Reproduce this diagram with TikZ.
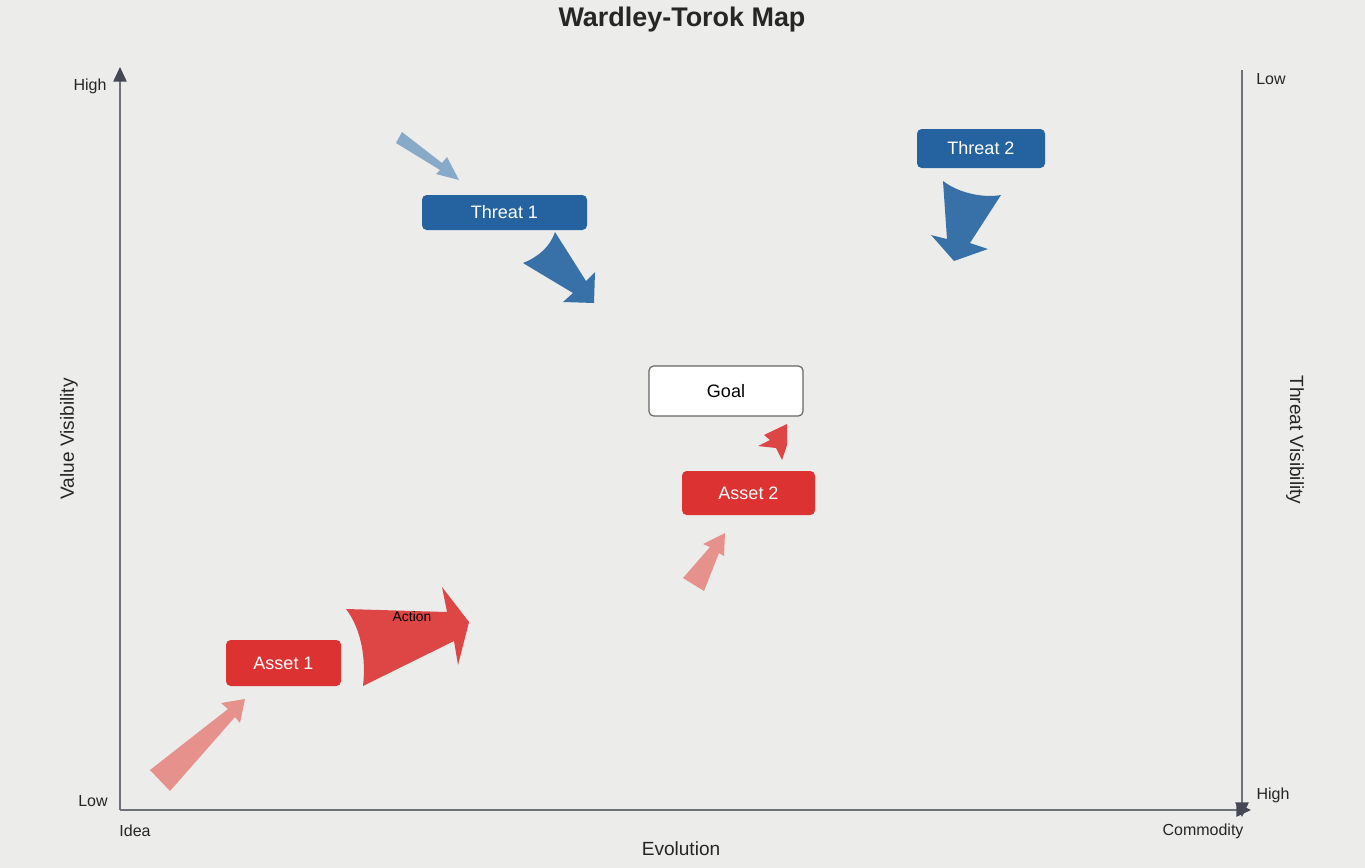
\documentclass[tikz,border=0pt]{standalone}
\usepackage{fontspec}
\setmainfont{Liberation Sans}
\usetikzlibrary{arrows.meta}

\definecolor{bgcol}{RGB}{236,236,234}
\definecolor{axisline}{RGB}{112,114,122}
\definecolor{axishead}{RGB}{70,72,84}
\definecolor{threatblue}{RGB}{37,99,160}
\definecolor{threatarrow}{RGB}{56,113,168}
\definecolor{threatlight}{RGB}{135,170,200}
\definecolor{assetred}{RGB}{220,50,50}
\definecolor{assetarrow}{RGB}{222,70,70}
\definecolor{assetlight}{RGB}{230,145,140}

\begin{document}
\begin{tikzpicture}
            [x=0.75pt, y=-0.75pt,
             axis/.style={draw=axisline, line width=1.2pt, -{Triangle[length=11pt, width=10pt, color=axishead]}},
             axislabel/.style={font=\fontsize{12}{14}\selectfont, text=black!85},
             axistitle/.style={font=\fontsize{14.3}{16}\selectfont, text=black!85},
             mapbox/.style={rectangle, rounded corners=3.5pt, inner sep=0pt, font=\fontsize{13.5}{16}\selectfont},
             threatbox/.style={mapbox, fill=threatblue, text=white},
             assetbox/.style={mapbox, fill=assetred, text=white},
             goalbox/.style={mapbox, fill=white, draw=black!60, line width=0.9pt, text=black}]
            \fill[bgcol] (0,0) rectangle (1365,868);
            \useasboundingbox (0,0) rectangle (1365,868);

            % title
            \node[font=\fontsize{20.2}{23}\selectfont\bfseries, text=black!85] (title) at (682,19.5) {Wardley-Torok Map};

            % axes
            \coordinate (origin) at (120,810);
            \coordinate (ytop) at (120,67);
            \coordinate (xend) at (1251,810);
            \coordinate (rtop) at (1242,70);
            \coordinate (rend) at (1242,817);
            \draw[axis] (origin) -- (ytop);
            \draw[axis] (origin) -- (xend);
            \draw[axis] (rtop) -- (rend);

            \node[axislabel] (vhigh) at (90,86) {High};
            \node[axislabel] (vlow) at (93,801) {Low};
            \node[axislabel] (idea) at (135,831) {Idea};
            \node[axislabel] (commodity) at (1203,831) {Commodity};
            \node[axislabel] (tlow) at (1271,79) {Low};
            \node[axislabel] (thigh) at (1273,795) {High};
            \node[axistitle] (evolution) at (681,849) {Evolution};
            \node[axistitle, rotate=90] (valuevis) at (69,439) {Value Visibility};
            \node[axistitle, rotate=-90] (threatvis) at (1295,440) {Threat Visibility};

            % boxes
            \node[threatbox, minimum width=123.75pt, minimum height=26.25pt] (threat1) at (504.5,212.5) {Threat 1};
            \node[threatbox, minimum width=96pt, minimum height=29.25pt] (threat2) at (981,148.5) {Threat 2};
            \node[goalbox, minimum width=115.5pt, minimum height=37.5pt] (goal) at (726,391) {Goal};
            \node[assetbox, minimum width=99.75pt, minimum height=33pt] (asset2) at (748.5,493) {Asset 2};
            \node[assetbox, minimum width=86.25pt, minimum height=34.5pt] (asset1) at (283.5,663) {Asset 1};

            % movement arrows
            \fill[assetlight] (150,770) -- (228,709) -- (221,703) -- (245,699) -- (240,723) -- (235,717) -- (170,791) -- cycle;
            \fill[assetarrow] (346,609) -- (447,612) -- (442,587) -- (469,622) -- (458,665) -- (454,641) -- (363,686)
                .. controls (366,660) and (362,630) .. (346,609) -- cycle;
            \node[font=\fontsize{10.4}{12}\selectfont, text=black] (action) at (412,617) {Action};
            \fill[assetlight] (683,578) -- (710,547) -- (703,544) -- (725,533) -- (724,556) -- (719,553) -- (704,591) -- cycle;
            \fill[assetarrow] (787,424) -- (764,435) -- (770,440) -- (758,446) -- (776,448) -- (782,460) -- (787,445) -- cycle;
            \fill[threatarrow] (555,232) -- (586,281) -- (595,272) -- (594,303) -- (563,302) -- (573,293) -- (523,263)
                .. controls (538,257) and (550,247) .. (555,232) -- cycle;
            \fill[threatarrow] (943,181) .. controls (960,194) and (985,198) .. (1001,195) -- (970,243) -- (988,249)
                -- (954,261) -- (931,235) -- (947,239) -- cycle;
            \fill[threatlight] (402,132) -- (442,163) -- (447,157) -- (459,180) -- (436,174) -- (440,170) -- (396,143) -- cycle;
        \end{tikzpicture}
\end{document}
